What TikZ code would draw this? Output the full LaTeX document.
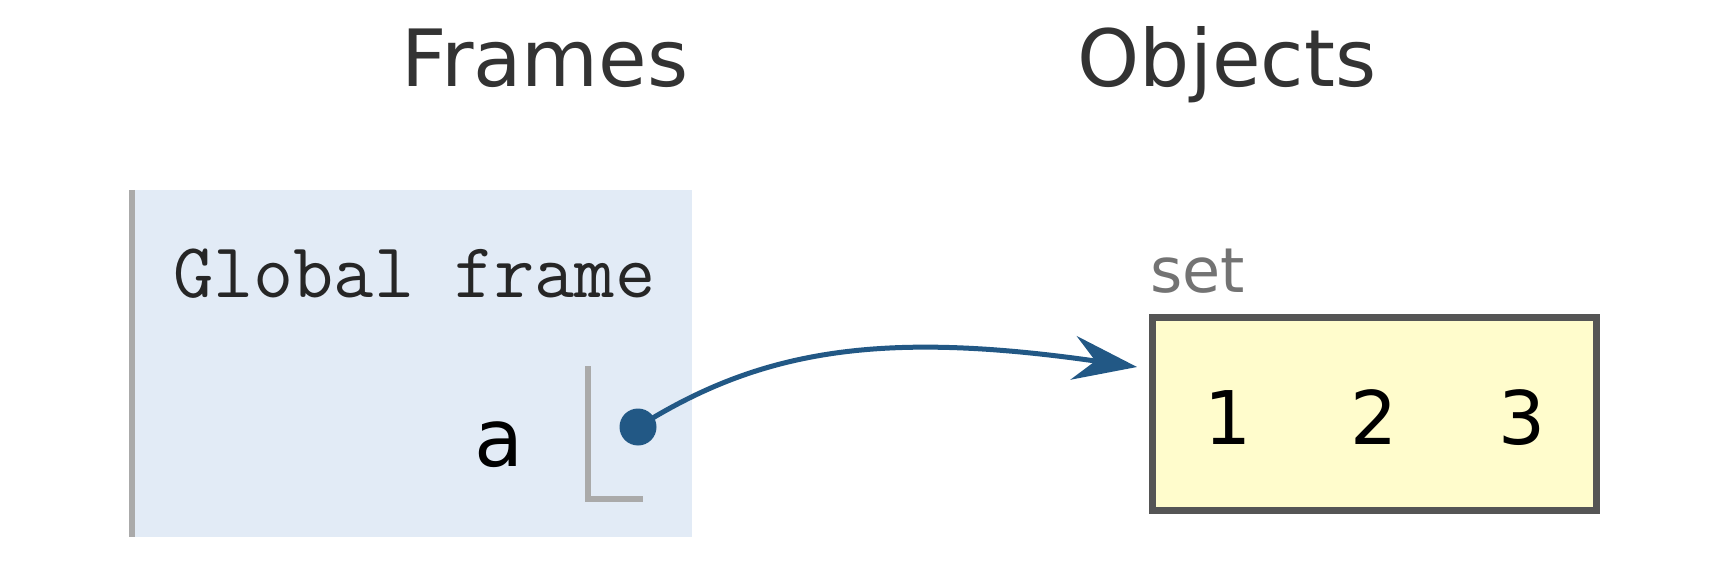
\documentclass[tikz,border=0pt]{standalone}
\usepackage{fontspec}
\setmainfont{DejaVu Sans}
\usetikzlibrary{arrows.meta}

\definecolor{framebg}{RGB}{226,235,246}
\definecolor{setbg}{RGB}{255,252,204}
\definecolor{ptrblue}{RGB}{34,88,133}
\definecolor{edgegray}{RGB}{170,170,170}
\definecolor{boxgray}{RGB}{85,85,85}

\begin{document}
\begin{tikzpicture}[x=1pt, y=-1pt,
    header/.style={anchor=base, text=black!80, font=\fontsize{79}{90}\selectfont},
    elem/.style={anchor=base, font=\fontsize{74}{86}\selectfont},
    ptr/.style={ptrblue, line width=5pt, line join=round,
                -{Stealth[length=64pt, width=44pt, inset=22pt]}}]

    % Canvas
    \useasboundingbox (0,0) rectangle (1730,564);

    % Headings
    \node[header] (frames) at (545,87) {Frames};
    \node[header] (objects) at (1227,87) {Objects};

    % Global frame
    \node[fill=framebg, anchor=north west, minimum width=560pt, minimum height=347pt,
          inner sep=0pt] (frame) at (132,190) {};
    \draw[edgegray, line width=5.5pt] (frame.north west) -- (frame.south west);
    \node[anchor=base west, font=\ttfamily\fontsize{78}{90}\selectfont, text=black!85,
          inner sep=0pt] (ftitle) at (173,298) {Global frame};

    % Variable a and its pointer cell
    \node[anchor=base, font=\fontsize{80}{90}\selectfont] (var) at (499,466) {a};
    \draw[edgegray, line width=5.5pt] (588,366) -- (588,499) -- (643,499);
    \node[circle, fill=ptrblue, minimum size=37pt, inner sep=0pt] (dot) at (638,427) {};

    % Set object
    \node[anchor=base west, text=black!55, font=\fontsize{62}{70}\selectfont,
          inner sep=0pt] (setlbl) at (1150,292) {set};
    \node[draw=boxgray, fill=setbg, line width=7pt, minimum width=444pt,
          minimum height=193pt, inner sep=0pt] (setbox) at (1374,413.5) {};
    \node[elem] (e1) at (1228,444) {1};
    \node[elem] (e2) at (1374,444) {2};
    \node[elem] (e3) at (1522,444) {3};

    % Reference arrow
    \coordinate (tip) at (1137,367);
    \draw[ptr] (dot.center) .. controls (760,350) and (880,330) .. (tip);

\end{tikzpicture}
\end{document}
